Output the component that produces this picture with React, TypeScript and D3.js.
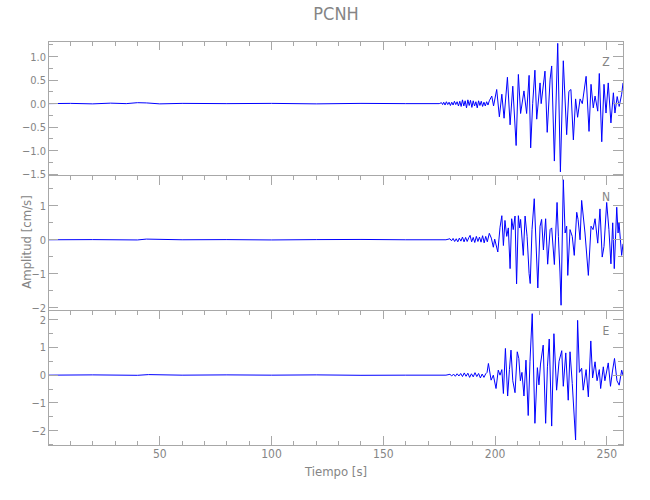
import React from 'react';
import * as d3 from 'd3';

const TITLE = 'PCNH';
const X_LABEL = 'Tiempo [s]';
const Y_LABEL = 'Amplitud [cm/s]';
const COMPONENTS = ['Z', 'N', 'E'];
const X_DOMAIN = [0, 257.2];
const X_MAJOR = [50, 100, 150, 200, 250];

const Z_TIME = [0, 10, 20, 28, 35, 40, 44, 50, 60, 80, 100, 120, 140, 160, 175, 176, 176.5, 177, 177.6, 178.2, 178.8, 179.4, 180, 180.6, 181.2, 181.8, 182.4, 183, 183.6, 184.2, 184.8, 185.4, 186, 186.6, 187.2, 187.8, 188.4, 189, 189.6, 190.2, 190.8, 191.4, 192, 192.6, 193.2, 193.8, 194.4, 195, 195.6, 196.2, 196.8, 197.4, 198.5, 199.3, 200.7, 201.9, 203, 204, 205.5, 206.7, 207.9, 209.4, 210.4, 211.4, 212.9, 214.1, 215.2, 215.9, 216.8, 217.8, 218.6, 220.1, 220.6, 222.3, 223.3, 224.6, 225.3, 226.5, 228.0, 229.2, 230.5, 232.0, 233.0, 233.9, 235.0, 236.0, 236.9, 238.0, 239.0, 240.7, 242.0, 242.9, 243.9, 244.7, 245.9, 246.6, 247.7, 248.7, 249.6, 250.6, 251.8, 252.9, 253.6, 254.6, 255.5, 256.6, 257.2];
const Z_AMP = [0, 0.005, -0.005, 0.01, 0, 0.02, 0.015, -0.005, 0.005, 0, 0.005, -0.005, 0.005, 0, 0, 0.02, -0.02, 0.03, -0.03, 0.04, -0.02, 0.03, -0.04, 0.03, -0.03, 0.05, -0.02, 0.04, -0.05, 0.05, -0.06, 0.08, -0.05, 0.06, -0.09, 0.08, -0.04, 0.07, -0.08, 0.06, -0.05, 0.04, -0.09, 0.06, -0.04, 0.05, -0.06, 0.03, -0.05, 0.04, -0.03, 0.06, 0.16, -0.05, 0.30, -0.28, 0.2, -0.31, 0.56, -0.45, 0.37, -0.89, 0.62, -0.21, 0.27, -0.21, 0.6, -0.94, 0.0, 0.71, -0.33, 0.44, 0.0, 0.69, -0.61, 0.52, 0.80, -1.22, 1.28, -1.45, 0.91, -0.66, 0.26, 0.3, -0.77, 0.1, -0.29, 0.1, 0.0, 0.58, -0.59, 0.41, -0.09, 0.16, -0.16, 0.64, -0.81, 0.41, -0.2, 0.44, -0.41, 0.23, -0.2, 0.15, -0.06, 0.2, 0.44];

const N_TIME = [0, 20, 40, 44, 60, 80, 100, 120, 140, 160, 178, 179.8, 180.5, 181.2, 181.9, 182.6, 183.3, 184, 184.7, 185.4, 186.1, 186.8, 187.5, 188.2, 188.8, 189.5, 190.2, 190.9, 191.6, 192.3, 193, 193.7, 194.4, 195.1, 195.8, 196.5, 197.4, 198.3, 199.2, 199.8, 201.2, 202.2, 203.0, 203.7, 204.4, 205.2, 205.9, 206.7, 207.4, 208.1, 208.9, 209.6, 210.4, 211.0, 211.4, 212.6, 213.4, 214.3, 215.2, 215.7, 216.5, 217.5, 219.1, 220.1, 220.8, 221.6, 222.6, 223.5, 224.6, 225.3, 226.5, 227.7, 228.3, 229.0, 229.5, 230.5, 231.3, 232.0, 232.5, 233.5, 234.5, 235.4, 236.5, 237.1, 238.0, 238.7, 240.2, 241.7, 242.9, 243.8, 244.7, 245.9, 246.9, 247.9, 248.7, 249.9, 250.9, 251.8, 252.6, 253.3, 254.4, 255.0, 255.4, 256.6, 257.2];
const N_AMP = [0, 0.005, -0.005, 0.02, 0, 0.005, -0.005, 0.005, 0.01, 0, 0, 0.03, -0.03, 0.04, -0.05, 0.03, -0.06, 0.05, -0.04, 0.08, -0.06, 0.07, -0.05, 0.06, 0.13, -0.06, 0.07, -0.08, 0.1, -0.05, 0.08, -0.07, 0.12, -0.09, 0.1, -0.06, 0.19, 0.05, -0.22, 0.02, -0.36, 0.37, 0.71, -0.17, 0.57, 0.1, 0.35, -0.85, 0.62, 0.3, 0.7, -1.3, 0.71, 0.35, 0.6, -0.46, 0.7, 0.1, -1.0, -1.29, 0.3, 1.21, -1.42, 0.4, 0.6, -0.3, 0.62, -0.72, 0.3, 0.35, -0.73, 1.1, 0.1, -0.95, -1.93, 1.77, 0.2, 0.4, -1.05, 0.3, 0.1, -0.46, 0.81, 0.6, 0.0, 1.16, 0.2, -1.05, 0.4, 0.3, 0.62, -0.1, 0.91, -0.51, -0.2, 1.1, 0.3, -0.71, 0.5, -0.85, 0.96, 0.2, 0.52, -0.46, -0.12];

const E_TIME = [0, 20, 40, 45, 60, 80, 100, 120, 140, 160, 178, 179.8, 180.6, 181.4, 182.2, 183, 183.8, 184.6, 185.4, 186.2, 187, 187.8, 188.6, 189.4, 190.2, 191, 191.8, 192.6, 193.4, 194.2, 195, 195.8, 196.4, 197.0, 198.2, 199.2, 200.4, 201.4, 202.2, 203.0, 203.7, 204.6, 205.6, 206.4, 207.1, 207.9, 208.9, 209.9, 210.6, 211.3, 212.0, 212.9, 213.8, 214.8, 215.6, 216.6, 217.8, 218.9, 219.6, 220.3, 221.5, 222.6, 223.4, 224.2, 225.3, 226.3, 227.5, 228.6, 229.8, 230.5, 231.6, 232.7, 233.5, 234.5, 236.0, 236.9, 237.7, 238.7, 239.4, 240.7, 241.7, 242.8, 243.6, 244.7, 245.6, 246.6, 247.2, 248.4, 249.1, 250.6, 251.6, 252.5, 253.4, 254.5, 255.5, 256.6, 257.2];
const E_AMP = [0, 0.01, -0.005, 0.02, 0, 0.01, 0, 0.01, -0.005, 0, 0, 0.03, -0.03, 0.04, -0.04, 0.05, -0.03, 0.06, -0.05, 0.08, -0.04, 0.07, -0.08, 0.05, -0.06, 0.09, -0.05, 0.06, -0.1, 0.04, -0.08, 0.05, 0.1, 0.42, -0.18, 0.0, -0.48, 0.18, 0.0, 0.2, -0.66, 0.96, -0.75, 0.2, 0.9, -0.2, -0.63, 0.84, 0.6, -0.2, 0.1, -0.75, 0.54, -1.45, 0.5, 2.21, -1.73, 0.27, -0.35, 0.4, 1.08, -1.73, 0.3, 1.3, -1.83, 1.49, -0.54, 0.5, 0.88, -0.4, 0.8, -0.9, 0.84, -0.3, -2.33, 1.97, 0.1, 0.25, -0.54, 0.2, -0.78, 1.23, -0.1, 0.48, -0.2, 0.2, -0.48, 0.3, -0.2, 0.44, -0.4, 0.15, 0.6, -0.2, -0.36, 0.18, 0.0];

const SERIES_TIME = [Z_TIME, N_TIME, E_TIME];
const SERIES_AMP = [Z_AMP, N_AMP, E_AMP];
const Y_DOMAINS = [[-1.53, 1.33], [-2.08, 1.89], [-2.51, 2.33]];
const Y_MAJOR = [[-1.5, -1, -0.5, 0, 0.5, 1], [-2, -1, 0, 1], [-2, -1, 0, 1, 2]];
const Y_MINOR_STEP = [0.25, 0.5, 0.5];
const Y_DECIMALS = [1, 0, 0];

const W = 650;
const H = 500;
const LEFT = 48;
const RIGHT = 623;
const TOP = 41;
const BOTTOM = 445;
const AXIS = '#a8a8a8';
const TEXT = '#858585';
const FONT = "'DejaVu Sans Condensed', 'Liberation Sans Narrow', sans-serif";

const fmt = (v: number, d: number) => {
  const s = Math.abs(v).toFixed(d);
  return v < 0 ? '\u2212' + s : s;
};

export default function App() {
  const x = d3.scaleLinear().domain(X_DOMAIN).range([LEFT, RIGHT]);
  const ph = (BOTTOM - TOP) / 3;
  const xMinor = d3.range(10, 257, 10).filter((t) => t % 50 !== 0);

  return (
    <svg width={W} height={H} style={{ position: 'absolute', left: 0, top: 0, background: '#fff' }} fontFamily={FONT}>
      <rect x={0} y={0} width={W} height={H} fill="#fff" />
      <text x={336} y={20} textAnchor="middle" fontSize={18} fill={TEXT}>{TITLE}</text>
      {COMPONENTS.map((name, i) => {
        const top = TOP + i * ph;
        const bot = top + ph;
        const y = d3.scaleLinear().domain(Y_DOMAINS[i]).range([bot, top]);
        const [lo, hi] = Y_DOMAINS[i];
        const step = Y_MINOR_STEP[i];
        const minors = d3.range(Math.ceil(lo / step) * step, hi + 1e-9, step);
        const line = d3.line<number>()
          .x((_, k) => x(SERIES_TIME[i][k]))
          .y((v) => y(v));
        const clipId = 'clip' + i;
        return (
          <g key={name}>
            <defs>
              <clipPath id={clipId}>
                <rect x={LEFT} y={top} width={RIGHT - LEFT} height={ph} />
              </clipPath>
            </defs>
            <path d={line(SERIES_AMP[i]) || ''} fill="none" stroke="#0000ff" strokeWidth={1} clipPath={`url(#${clipId})`} />
            <g stroke={AXIS} strokeWidth={1} shapeRendering="crispEdges">
              <rect x={LEFT} y={top} width={RIGHT - LEFT} height={ph} fill="none" />
              {X_MAJOR.map((t) => (
                <line key={'xm' + t} x1={x(t)} x2={x(t)} y1={top} y2={top + 9} />
              ))}
              {xMinor.map((t) => (
                <line key={'xn' + t} x1={x(t)} x2={x(t)} y1={top} y2={top + 4.5} />
              ))}
              {i === 2 && X_MAJOR.map((t) => (
                <line key={'bxm' + t} x1={x(t)} x2={x(t)} y1={bot} y2={bot - 9} />
              ))}
              {i === 2 && xMinor.map((t) => (
                <line key={'bxn' + t} x1={x(t)} x2={x(t)} y1={bot} y2={bot - 4.5} />
              ))}
              {minors.map((v) => {
                const isMajor = Y_MAJOR[i].some((m) => Math.abs(m - v) < 1e-6);
                const len = isMajor ? 10 : 5;
                return (
                  <g key={'y' + v}>
                    <line x1={LEFT} x2={LEFT + len} y1={y(v)} y2={y(v)} />
                    <line x1={RIGHT} x2={RIGHT - len} y1={y(v)} y2={y(v)} />
                  </g>
                );
              })}
            </g>
            {Y_MAJOR[i].map((v) => (
              <text key={'yl' + v} x={LEFT - 2} y={y(v) + 4} textAnchor="end" fontSize={11} fill={TEXT}>
                {fmt(v, Y_DECIMALS[i])}
              </text>
            ))}
            <text x={606} y={top + 25} textAnchor="middle" fontSize={12} fill={TEXT}>{name}</text>
          </g>
        );
      })}
      {X_MAJOR.map((t) => (
        <text key={'xl' + t} x={x(t)} y={458} textAnchor="middle" fontSize={12} fill={TEXT}>{t}</text>
      ))}
      <text x={336} y={476} textAnchor="middle" fontSize={13} fill={TEXT}>{X_LABEL}</text>
      <text transform={`translate(31,${242}) rotate(-90)`} textAnchor="middle" fontSize={13} fill={TEXT}>{Y_LABEL}</text>
    </svg>
  );
}
